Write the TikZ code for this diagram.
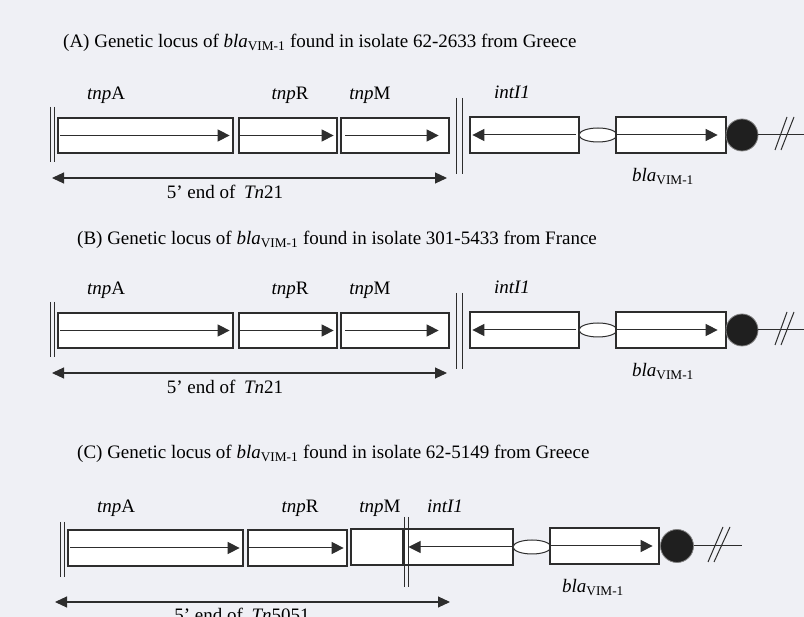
\documentclass[tikz,border=0pt]{standalone}
\usepackage{fontspec}
\setmainfont{Liberation Serif}
\usetikzlibrary{arrows.meta,shapes.geometric}
\definecolor{bg}{RGB}{239,240,245}
\definecolor{ink}{RGB}{45,45,45}
\newcommand\txtsz{\fontsize{19}{22}\selectfont}
\newcommand\vim{\textit{bla}\textsubscript{VIM-1}}
\tikzset{
  genebox/.style={draw=ink, fill=white, line width=1.3pt, inner sep=0pt, rectangle},
  dirarrow/.style={draw=ink, line width=1pt, -{Triangle[length=12pt,width=12pt]}},
  dimarrow/.style={draw=ink, line width=1.1pt, {Triangle[length=12pt,width=11pt]}-{Triangle[length=12pt,width=11pt]}},
  barline/.style={draw=ink, line width=1pt},
  thinline/.style={draw=ink, line width=1pt},
  oval/.style={ellipse, draw=ink, fill=white, line width=1pt, inner sep=0pt, minimum width=38pt, minimum height=14pt},
  dot/.style={circle, draw=gray, fill=black!88, line width=0.8pt, inner sep=0pt, minimum size=32pt},
  lab/.style={font=\txtsz, anchor=base, inner sep=0pt, text=black},
  ttl/.style={font=\txtsz, anchor=base west, inner sep=0pt, text=black},
}
\newcommand\panelAB[2]{%
  \begin{scope}[yshift=-#2pt, name prefix=#1]
    % left double bar
    \draw[barline] (50,107) -- (50,162);
    \draw[barline] (54,107) -- (54,162);
    % boxes
    \node[genebox, minimum width=175pt, minimum height=35pt] (tnpA) at (145.5,135.5) {};
    \node[genebox, minimum width=98pt, minimum height=35pt] (tnpR) at (288,135.5) {};
    \node[genebox, minimum width=108pt, minimum height=35pt] (tnpM) at (395,135.5) {};
    \draw[dirarrow] ([xshift=3pt]tnpA.west) -- ([xshift=-4pt]tnpA.east);
    \draw[dirarrow] ([xshift=1.5pt]tnpR.west) -- ([xshift=-4pt]tnpR.east);
    \draw[dirarrow] ([xshift=5pt]tnpM.west) -- ([xshift=-11pt]tnpM.east);
    % right double bar
    \draw[barline] (456,98) -- (456,174);
    \draw[barline] (462,98) -- (462,174);
    % integrase and cassette
    \node[genebox, minimum width=109pt, minimum height=36pt] (intI) at (524.5,135) {};
    \node[oval] (ov) at (598,135) {};
    \node[genebox, minimum width=110pt, minimum height=36pt] (bla) at (671,135) {};
    \draw[dirarrow] ([xshift=-4pt]intI.east) -- ([xshift=3pt]intI.west);
    \draw[dirarrow] ([xshift=2pt]bla.west) -- ([xshift=-9pt]bla.east);
    \node[dot] (dt) at (742,135) {};
    \coordinate (endp) at (804,135);
    \draw[thinline] (dt.east) -- (endp);
    \draw[thinline] (775,150) -- (787,117);
    \draw[thinline] (781,150) -- (794,117);
    % dimension
    \coordinate (dl) at (52,178);
    \coordinate (dr) at (447,178);
    \draw[dimarrow] (dl) -- (dr);
    \node[lab] (dimtxt) at (225,199) {5’ end of\hspace{0.45em}\textit{Tn}21};
    % labels
    \node[lab] (ltnpA) at (106,100) {\textit{tnp}A};
    \node[lab] (ltnpR) at (290,100) {\textit{tnp}R};
    \node[lab] (ltnpM) at (370,100) {\textit{tnp}M};
    \node[lab] (lint) at (512,99) {\textit{intI1}};
    \node[lab] (lbla) at (663,182) {\vim};
  \end{scope}}
\begin{document}
\begin{tikzpicture}[x=1pt,y=-1pt]
\path[fill=bg] (0,0) rectangle (804,617);
\useasboundingbox (0,0) rectangle (804,617);
% titles
\node[ttl] (tA) at (63,48) {(A) Genetic locus of \vim{} found in isolate 62-2633 from Greece};
\node[ttl] (tB) at (77,245) {(B) Genetic locus of \vim{} found in isolate 301-5433 from France};
\node[ttl] (tC) at (77,459) {(C) Genetic locus of \vim{} found in isolate 62-5149 from Greece};
\panelAB{a-}{0}
\panelAB{b-}{195}
% panel C
\begin{scope}[name prefix=c-]
  \draw[barline] (60,522) -- (60,577);
  \draw[barline] (64,522) -- (64,577);
  \node[genebox, minimum width=175pt, minimum height=36pt] (tnpA) at (155.5,548) {};
  \node[genebox, minimum width=99pt, minimum height=36pt] (tnpR) at (297.5,548) {};
  \node[genebox, minimum width=162pt, minimum height=36pt] (mi) at (432,547) {};
  \draw[dirarrow] ([xshift=3pt]tnpA.west) -- ([xshift=-4pt]tnpA.east);
  \draw[dirarrow] ([xshift=2pt]tnpR.west) -- ([xshift=-4pt]tnpR.east);
  \coordinate (divT) at (403,529);
  \coordinate (divB) at (403,565);
  \draw[draw=ink, line width=2pt] (divT) -- (divB);
  \draw[barline] (404.5,517) -- (404.5,587);
  \draw[barline] (408,517) -- (408,587);
  \coordinate (arrtip) at (408.5,547);
  \draw[dirarrow] (mi.east) -- (arrtip);
  \node[oval] (ov) at (532,547) {};
  \node[genebox, minimum width=109pt, minimum height=36pt] (bla) at (604.5,546) {};
  \draw[dirarrow] ([xshift=2pt]bla.west) -- ([xshift=-7pt]bla.east);
  \node[dot, minimum size=33pt] (dt) at (677,546) {};
  \coordinate (endp) at (742,546);
  \draw[thinline] (dt.east) -- (endp);
  \draw[thinline] (708,562) -- (723,527);
  \draw[thinline] (714,562) -- (730,527);
  \coordinate (dl) at (55,602);
  \coordinate (dr) at (450,602);
  \draw[dimarrow] (dl) -- (dr);
  \node[lab] (dimtxt) at (242,621) {5’ end of\hspace{0.45em}\textit{Tn}5051};
  \node[lab] (ltnpA) at (116,513) {\textit{tnp}A};
  \node[lab] (ltnpR) at (300,513) {\textit{tnp}R};
  \node[lab] (ltnpM) at (380,513) {\textit{tnp}M};
  \node[lab] (lint) at (445,513) {\textit{intI1}};
  \node[lab] (lbla) at (593,593) {\vim};
\end{scope}
\end{tikzpicture}
\end{document}
